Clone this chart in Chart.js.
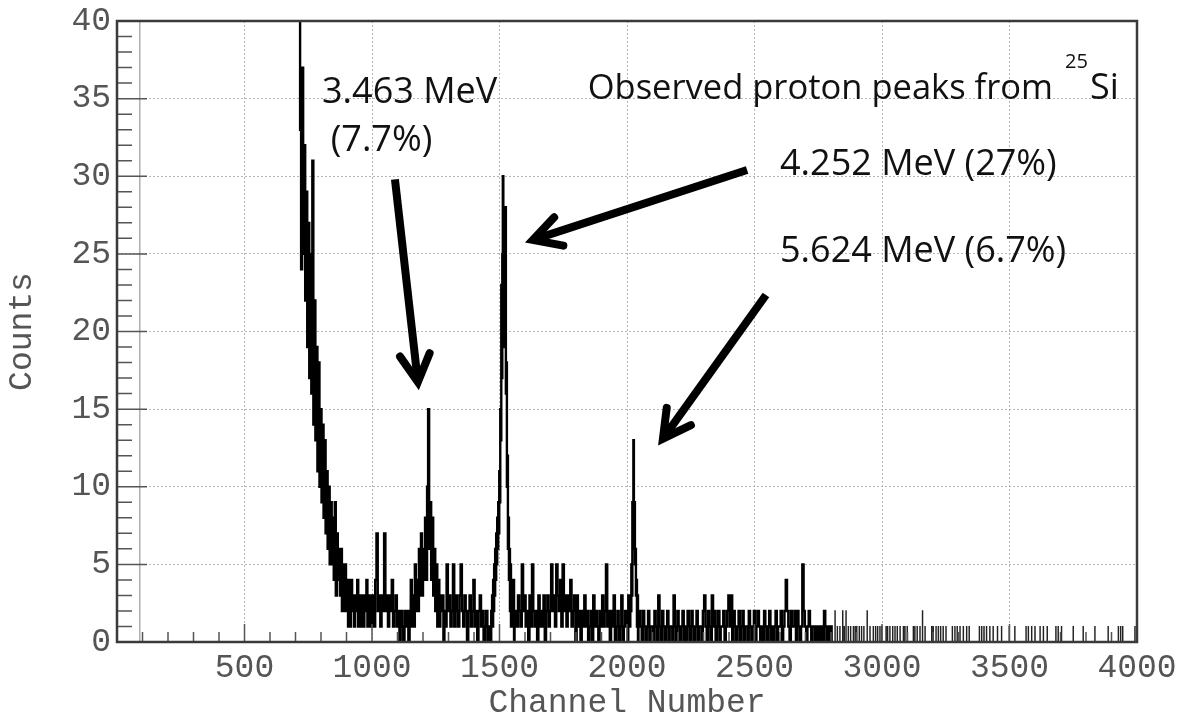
<!DOCTYPE html>
<html>
<head>
<meta charset="utf-8">
<script src="https://cdn.jsdelivr.net/npm/chart.js@4.4.0/dist/chart.umd.min.js"></script>
<style>
    html, body { margin: 0; padding: 0; background: #fff; }
    #wrap { width: 1179px; height: 715px; }
</style>
</head>
<body>
<div id="wrap"><canvas id="spectrum" width="1179" height="715"></canvas></div>
<script>
// Counts per channel.
// Below channel 90 the histogram is empty, up to ~712 it is above the 40-count frame.
var edgeChannels = [0, 89, 90, 120];
var edgeCounts = [0, 0, 60, 60];
var offScaleChannels = [690, 712];
var offScaleCounts = [60, 60];

var decayStart = 716, decayStep = 4;
var decayCounts = [44, 33, 24, 37, 25, 32, 22, 29, 19, 27, 17, 25, 16, 31, 14,
    22, 13, 19, 11, 18, 10, 15, 9, 14, 8, 13, 7, 11, 6, 10,
    5, 9, 5, 8, 4, 9, 3, 7, 4, 6, 3, 6, 2, 5, 2, 5, 2, 4, 1, 4,
    1, 4, 2, 3, 1, 3, 2, 4, 1, 3, 1, 3, 2, 1, 3, 2, 4, 1, 2, 3, 1, 2];

var bg1Start = 1005, bg1Step = 5;
var bg1Counts = [3, 1, 4, 7, 2, 3, 1, 3, 2, 7, 2, 3, 1, 3, 2, 4, 1, 2, 3, 1, 2, 0, 2, 1, 0, 2, 1, 2, 0];

var peak1Start = 1150, peak1Step = 4;
var peak1Counts = [2, 4, 1, 3, 1, 5, 2, 4, 2, 6, 3, 7, 3, 6, 4, 8, 4, 10, 15, 6,
    9, 4, 8, 3, 6, 2, 5, 1, 4, 1, 3, 2, 3, 0, 2, 1];

var bg2Start = 1295, bg2Step = 5;
var bg2Counts = [5, 2, 3, 1, 2, 5, 1, 3, 2, 1, 3, 5, 2, 1, 3, 2, 0, 2, 3, 1,
    2, 4, 1, 2, 0, 2, 3, 1, 2, 0, 1, 2, 0, 1, 0, 2];

var peak2Start = 1472, peak2Step = 2;
var peak2Counts = [3, 1, 4, 2, 5, 3, 6, 4, 7, 5, 8, 6, 9, 7, 11, 9, 15, 13, 23, 17,
    25, 30, 21, 27, 19, 26, 28, 16, 18, 10, 12, 6, 8, 4, 6, 2, 5, 1, 4, 2, 3, 1, 4, 0, 2];

var bg3Start = 1565, bg3Step = 5;
var bg3Counts = [2, 1, 3, 2, 1, 5, 2, 3, 1, 2, 0, 3, 1, 5, 2, 1, 2, 0, 3, 1, 2, 1, 3, 0,
    2, 3, 1, 2, 5, 2, 3, 1, 5, 3, 2, 4, 1, 5, 2, 3, 1, 3, 2, 4, 1, 2, 3, 0,
    3, 1, 2, 0, 2, 1, 3, 1, 2, 0, 1, 2, 0, 3, 1, 2, 1, 0, 2, 1, 3, 1, 2, 5,
    1, 2, 0, 2, 1, 3, 0, 1, 2, 0, 1, 3, 0, 1, 2, 1];

var peak3Start = 2002, peak3Step = 2;
var peak3Counts = [2, 0, 3, 1, 2, 1, 3, 2, 5, 3, 9, 6, 13, 7, 9, 5, 6, 3, 4, 1, 3, 0, 2, 1, 2];

var bg4Start = 2055, bg4Step = 5;
var bg4Counts = [1, 0, 2, 1, 0, 1, 2, 0, 1, 1, 0, 2, 1, 0, 3, 1, 0, 2, 1, 0,
    1, 2, 0, 1, 1, 0, 3, 1, 0, 2, 1, 0, 1, 2, 0, 1, 0, 2, 1, 0,
    2, 1, 0, 1, 2, 0, 1, 1, 0, 2, 3, 1, 0, 2, 1, 0, 3, 1, 2, 0,
    1, 2, 0, 1, 1, 2, 0, 1, 2, 3, 1, 3, 0, 2, 1, 0, 1, 2, 0, 1,
    2, 0, 1, 1, 0, 2, 1, 0, 1, 2, 0, 1, 2, 1, 0, 1, 0, 2, 1, 0,
    1, 2, 0, 1, 0, 1, 2, 0, 1, 1, 2, 0, 1, 2, 4, 2, 1, 0, 2, 1,
    1, 2, 0, 2, 1, 0, 1, 5, 2, 1, 0, 1, 2, 1, 0, 1, 1, 0, 1, 0,
    1, 0, 1, 0, 2, 1, 0, 1, 0, 1];

// sparse tail: channels holding single counts, and the few with two
var tailSingles = [2825, 2835, 2852, 2868, 2877, 2888, 2895, 2901, 2911, 2920, 2929, 2953, 2966,
    2975, 2983, 2992, 2999, 3016, 3022, 3031, 3042, 3051, 3060, 3071, 3084, 3090, 3099, 3123,
    3129, 3138, 3149, 3169, 3195, 3201, 3212, 3221, 3230, 3240, 3251, 3276, 3286, 3295, 3306,
    3319, 3332, 3342, 3382, 3391, 3400, 3410, 3423, 3436, 3453, 3469, 3499, 3521, 3565, 3574,
    3587, 3600, 3620, 3633, 3648, 3682, 3691, 3704, 3750, 3789, 3835, 3887, 3927, 3936, 3944, 3992];
var tailDoubles = [2816, 2846, 2859, 2942, 3159];

// annotation text, anchored in channel / count units
var noteTexts = ['3.463 MeV', '(7.7%)', 'Observed proton peaks from', 'Si', '4.252 MeV (27%)', '5.624 MeV (6.7%)'];
var noteChannels = [804, 838, 1846, 3816, 2600, 2600];
var noteCounts = [34.7, 31.6, 35.0, 35.0, 30.1, 24.5];
var noteSizes = [36, 36, 34.5, 36, 36, 36];
var supText = '25', supChannel = 3718, supCount = 37.0;

// arrows: tail -> tip, in channel / count units
var arrowTails = [[1090, 29.8], [2471, 30.4], [2545, 22.35]];
var arrowTips = [[1180, 16.75], [1631, 25.9], [2141, 13.1]];

function toPoints(channels, counts) {
    return channels.map(function (c, i) { return { x: c, y: counts[i] }; });
}

function buildDense() {
    var pts = toPoints(offScaleChannels, offScaleCounts);
    function addRun(start, step, counts) {
        counts.forEach(function (c, k) { pts.push({ x: start + k * step, y: c }); });
    }
    addRun(decayStart, decayStep, decayCounts);
    addRun(bg1Start, bg1Step, bg1Counts);
    addRun(peak1Start, peak1Step, peak1Counts);
    addRun(bg2Start, bg2Step, bg2Counts);
    addRun(peak2Start, peak2Step, peak2Counts);
    addRun(bg3Start, bg3Step, bg3Counts);
    addRun(peak3Start, peak3Step, peak3Counts);
    addRun(bg4Start, bg4Step, bg4Counts);
    pts.push({ x: 2805, y: 0 });
    return pts;
}

function buildTail() {
    var pts = [{ x: 2805, y: 0 }];
    var hits = tailSingles.map(function (c) { return [c, 1]; })
        .concat(tailDoubles.map(function (c) { return [c, 2]; }));
    hits.sort(function (a, b) { return a[0] - b[0]; });
    hits.forEach(function (h) {
        pts.push({ x: h[0] - 1, y: 0 });
        pts.push({ x: h[0], y: h[1] });
        pts.push({ x: h[0] + 1, y: 0 });
    });
    pts.push({ x: 4000, y: 0 });
    return pts;
}

var axisFont = { family: 'Liberation Mono', size: 33, weight: 'normal' };
var titleFont = { family: 'Liberation Mono', size: 33, weight: 'normal', lineHeight: '24px' };
var axisColor = '#555';

// frame, inward ticks (ROOT style), and the hand-drawn annotations
var decorations = {
    id: 'decorations',
    afterDatasetsDraw: function (chart) {
        var ctx = chart.ctx;
        var a = chart.chartArea;
        var xs = chart.scales.x, ys = chart.scales.y;
        var v, px, len;
        ctx.save();

        ctx.strokeStyle = '#555';
        ctx.lineWidth = 1.5;
        ctx.beginPath();
        for (v = 0; v <= 4000; v += 100) {
            px = xs.getPixelForValue(v);
            len = v % 500 === 0 ? 18 : 10;
            ctx.moveTo(px, a.bottom);
            ctx.lineTo(px, a.bottom - len);
        }
        for (v = 0; v <= 40; v += 1) {
            px = ys.getPixelForValue(v);
            len = v % 5 === 0 ? 30 : 15;
            ctx.moveTo(a.left, px);
            ctx.lineTo(a.left + len, px);
        }
        ctx.stroke();

        ctx.strokeStyle = '#3a3a3a';
        ctx.lineWidth = 2.5;
        ctx.strokeRect(a.left, a.top, a.right - a.left, a.bottom - a.top);

        // arrows
        ctx.strokeStyle = '#000';
        ctx.lineWidth = 8;
        arrowTails.forEach(function (t, i) {
            var x0 = xs.getPixelForValue(t[0]), y0 = ys.getPixelForValue(t[1]);
            var x1 = xs.getPixelForValue(arrowTips[i][0]), y1 = ys.getPixelForValue(arrowTips[i][1]);
            var ang = Math.atan2(y0 - y1, x0 - x1);
            var head = 31, spread = 0.5;
            ctx.lineCap = 'butt';
            ctx.beginPath();
            ctx.moveTo(x0, y0);
            ctx.lineTo(x1, y1);
            ctx.stroke();
            ctx.lineCap = 'round';
            ctx.lineJoin = 'miter';
            ctx.beginPath();
            ctx.moveTo(x1 + head * Math.cos(ang - spread), y1 + head * Math.sin(ang - spread));
            ctx.lineTo(x1, y1);
            ctx.lineTo(x1 + head * Math.cos(ang + spread), y1 + head * Math.sin(ang + spread));
            ctx.stroke();
        });

        // labels
        ctx.fillStyle = '#111';
        ctx.textBaseline = 'alphabetic';
        ctx.textAlign = 'left';
        noteTexts.forEach(function (t, i) {
            ctx.font = noteSizes[i] + 'px "Open Sans"';
            ctx.fillText(t, xs.getPixelForValue(noteChannels[i]), ys.getPixelForValue(noteCounts[i]));
        });
        ctx.font = '20px "Open Sans"';
        ctx.fillText(supText, xs.getPixelForValue(supChannel), ys.getPixelForValue(supCount));

        ctx.restore();
    }
};

var ctx = document.getElementById('spectrum').getContext('2d');
var spectrumChart = new Chart(ctx, {
    type: 'line',
    data: {
        datasets: [{
            label: 'Counts (edge)',
            data: toPoints(edgeChannels, edgeCounts),
            borderColor: '#9a9a9a',
            borderWidth: 1.2,
            pointRadius: 0,
            stepped: 'middle',
            fill: false
        }, {
            label: 'Counts',
            data: buildDense(),
            borderColor: '#000',
            borderWidth: 2.4,
            pointRadius: 0,
            stepped: 'middle',
            fill: false
        }, {
            label: 'Counts (tail)',
            data: buildTail(),
            borderColor: '#222',
            borderWidth: 1.2,
            pointRadius: 0,
            stepped: 'middle',
            fill: false
        }]
    },
    options: {
        responsive: false,
        animation: false,
        events: [],
        layout: { padding: { left: 0, right: 42, top: 21, bottom: 0 } },
        plugins: {
            legend: { display: false },
            tooltip: { enabled: false }
        },
        scales: {
            x: {
                type: 'linear',
                min: 0,
                max: 4000,
                ticks: {
                    stepSize: 500,
                    padding: 6,
                    color: axisColor,
                    font: axisFont,
                    maxRotation: 0,
                    autoSkip: false,
                    callback: function (value) { return value === 0 ? '' : String(value); }
                },
                grid: { color: '#b5b5b5', lineWidth: 1, drawTicks: false },
                border: { display: false, dash: [2, 2] },
                title: {
                    display: true,
                    text: 'Channel Number',
                    color: axisColor,
                    font: titleFont,
                    padding: { top: 0, bottom: 0 }
                },
                afterFit: function (scale) {
                    scale.height = 73;
                    scale.paddingLeft = 0;
                    scale.paddingRight = 0;
                }
            },
            y: {
                min: 0,
                max: 40,
                ticks: {
                    stepSize: 5,
                    padding: 6,
                    color: axisColor,
                    font: axisFont,
                    callback: function (value) { return String(value); }
                },
                grid: { color: '#b5b5b5', lineWidth: 1, drawTicks: false },
                border: { display: false, dash: [2, 2] },
                title: {
                    display: true,
                    text: 'Counts',
                    color: axisColor,
                    font: titleFont,
                    padding: { top: 10, bottom: 0 }
                },
                afterFit: function (scale) {
                    scale.width = 117;
                    scale.paddingTop = 0;
                    scale.paddingBottom = 0;
                }
            }
        }
    },
    plugins: [decorations]
});
</script>
</body>
</html>
